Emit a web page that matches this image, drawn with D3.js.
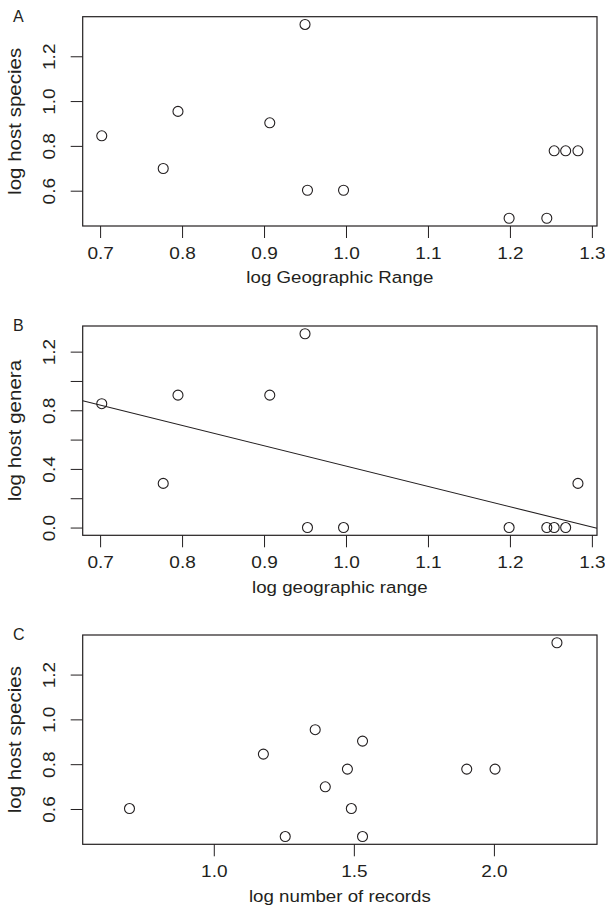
<!DOCTYPE html>
<html>
<head>
<meta charset="utf-8">
<script src="https://cdn.jsdelivr.net/npm/d3@7"></script>
<style>
  body { margin: 0; background: #fff; }
  text { font-family: "Liberation Sans", Arial, sans-serif; fill: #231f20; }
</style>
</head>
<body>
<script>
// data (log10 values)
let geoRange = [0.702, 0.777, 0.795, 0.907, 0.950, 0.953, 0.997, 1.199, 1.245, 1.254, 1.268, 1.283];
let hostSpeciesA = [0.845, 0.699, 0.954, 0.903, 1.342, 0.602, 0.602, 0.477, 0.477, 0.778, 0.778, 0.778];
let hostGenera = [0.845, 0.301, 0.903, 0.903, 1.322, 0, 0, 0, 0, 0, 0, 0.301];
let records = [0.699, 1.177, 1.255, 1.362, 1.398, 1.477, 1.491, 1.531, 1.531, 1.903, 2.004, 2.225];
let hostSpeciesC = [0.602, 0.845, 0.477, 0.954, 0.699, 0.778, 0.602, 0.903, 0.477, 0.778, 0.778, 1.342];

let xTicksGeo = [0.7, 0.8, 0.9, 1.0, 1.1, 1.2, 1.3];
let xTicksRec = [1.0, 1.5, 2.0];
let yTicksSpecies = [0.6, 0.8, 1.0, 1.2];
let yTicksGenera = [0.0, 0.2, 0.4, 0.6, 0.8, 1.0, 1.2];
let yLabelsGenera = [0.0, 0.4, 0.8, 1.2];

let W = 605, H = 907;
let left = 82.7, right = 597, boxH = 209.3;
let ink = "#231f20";

let svg = d3.select("body").append("svg")
    .attr("width", W)
    .attr("height", H);

// R style axis range: extend limits by 4% each side
function rRange(lo, hi) {
    let d = (hi - lo) * 0.04;
    return [lo - d, hi + d];
}

function fitLine(xs, ys) {
    let mx = d3.mean(xs), my = d3.mean(ys);
    let sxy = 0, sxx = 0;
    for (let i = 0; i < xs.length; i++) {
        sxy += (xs[i] - mx) * (ys[i] - my);
        sxx += (xs[i] - mx) * (xs[i] - mx);
    }
    let b = sxy / sxx;
    return { a: my - b * mx, b: b };
}

function drawPanel(p) {
    let g = svg.append("g").attr("transform", "translate(0," + p.top + ")");

    let x = d3.scaleLinear().domain(p.xDomain).range([left, right]);
    let y = d3.scaleLinear().domain(p.yDomain).range([boxH, 0]);

    // x axis
    let xa = g.append("g")
        .attr("transform", "translate(0," + boxH + ")")
        .call(d3.axisBottom(x).tickValues(p.xTicks).tickSize(12).tickSizeOuter(0)
            .tickFormat(d3.format(".1f")));
    xa.select(".domain").remove();
    xa.selectAll("line").attr("stroke", ink);
    xa.selectAll("text")
        .attr("y", 0).attr("dy", 0)
        .attr("transform", "translate(0,33) scale(1.12,1)")
        .attr("x", 0)
        .style("font-size", "17px");
    xa.selectAll(".tick text").each(function (d) {
        d3.select(this).attr("transform", "translate(0,33) scale(1.12,1)");
    });

    // y axis
    let ya = g.append("g")
        .attr("transform", "translate(" + left + ",0)")
        .call(d3.axisLeft(y).tickValues(p.yTicks).tickSize(12).tickSizeOuter(0)
            .tickFormat(d => p.yLabels.some(v => Math.abs(v - d) < 1e-9) ? d3.format(".1f")(d) : ""));
    ya.select(".domain").remove();
    ya.selectAll("line").attr("stroke", ink);
    ya.selectAll("text")
        .attr("x", 0).attr("y", 0).attr("dy", 0)
        .attr("text-anchor", "middle")
        .attr("transform", "translate(" + (55 - left) + ",0) rotate(-90) scale(1.12,1)")
        .style("font-size", "17px");

    // box
    g.append("rect")
        .attr("x", left).attr("y", 0)
        .attr("width", right - left).attr("height", boxH)
        .attr("fill", "none").attr("stroke", ink).attr("stroke-width", 1.2);

    // regression line
    if (p.fit) {
        let f = fitLine(p.xs, p.ys);
        let x0 = p.xDomain[0], x1 = p.xDomain[1];
        g.append("line")
            .attr("x1", x(x0)).attr("y1", y(f.a + f.b * x0))
            .attr("x2", x(x1)).attr("y2", y(f.a + f.b * x1))
            .attr("stroke", ink).attr("stroke-width", 1.1);
    }

    // points
    g.selectAll("circle.pt")
        .data(p.xs.map((v, i) => [v, p.ys[i]]))
        .enter().append("circle")
        .attr("class", "pt")
        .attr("cx", d => x(d[0]))
        .attr("cy", d => y(d[1]))
        .attr("r", 5)
        .attr("fill", "none")
        .attr("stroke", ink)
        .attr("stroke-width", 1.1);

    // axis titles
    g.append("text")
        .attr("transform", "translate(" + ((left + right) / 2) + "," + (boxH + 57.3) + ") scale(1.1,1)")
        .attr("text-anchor", "middle")
        .style("font-size", "17px")
        .text(p.xTitle);

    g.append("text")
        .attr("transform", "translate(21," + (boxH / 2) + ") rotate(-90) scale(1.14,1)")
        .attr("text-anchor", "middle")
        .style("font-size", "18px")
        .text(p.yTitle);

    // panel letter
    g.append("text")
        .attr("x", 13).attr("y", 5)
        .style("font-size", "16px")
        .text(p.letter);
}

let speciesDomain = rRange(d3.min(hostSpeciesA), d3.max(hostSpeciesA));

drawPanel({
    top: 16.7, letter: "A",
    xs: geoRange, ys: hostSpeciesA,
    xDomain: rRange(d3.min(geoRange), d3.max(geoRange)),
    yDomain: speciesDomain,
    xTicks: xTicksGeo, yTicks: yTicksSpecies, yLabels: yTicksSpecies,
    xTitle: "log Geographic Range", yTitle: "log host species"
});

drawPanel({
    top: 326, letter: "B",
    xs: geoRange, ys: hostGenera, fit: true,
    xDomain: rRange(d3.min(geoRange), d3.max(geoRange)),
    yDomain: rRange(d3.min(hostGenera), d3.max(hostGenera)),
    xTicks: xTicksGeo, yTicks: yTicksGenera, yLabels: yLabelsGenera,
    xTitle: "log geographic range", yTitle: "log host genera"
});

drawPanel({
    top: 635, letter: "C",
    xs: records, ys: hostSpeciesC,
    xDomain: rRange(0.6, 2.3),
    yDomain: speciesDomain,
    xTicks: xTicksRec, yTicks: yTicksSpecies, yLabels: yTicksSpecies,
    xTitle: "log number of records", yTitle: "log host species"
});
</script>
</body>
</html>
